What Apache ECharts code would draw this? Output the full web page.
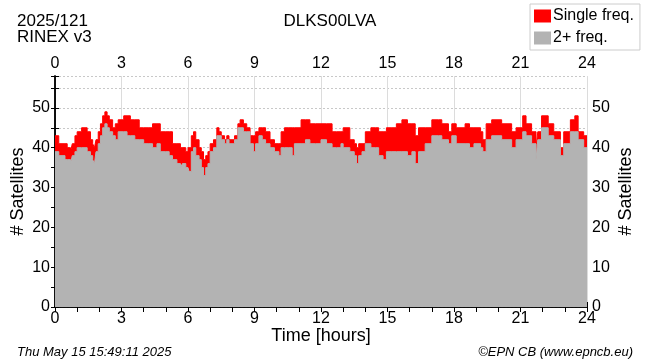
<!DOCTYPE html>
<html>
<head>
<meta charset="utf-8">
<script src="https://cdn.jsdelivr.net/npm/echarts@6/dist/echarts.min.js"></script>
<style>
html,body{margin:0;padding:0;background:#fff;}
#chart{width:650px;height:362px;}
</style>
</head>
<body>
<div id="chart"></div>
<script>
// Time of each step start (hours UTC)
const hours = [0.00,0.17,0.45,0.55,0.70,0.78,0.90,1.00,1.20,1.45,1.60,1.70,1.78,1.85,1.95,2.05,2.15,2.25,2.35,2.45,2.60,2.72,2.85,3.10,3.25,3.40,3.60,3.80,4.00,4.20,4.40,4.60,4.75,5.00,5.15,5.30,5.50,5.66,5.75,5.90,
6.00,6.05,6.15,6.25,6.35,6.50,6.60,6.70,6.80,6.90,7.00,7.15,7.30,7.40,7.50,7.65,7.75,7.85,8.10,8.25,8.35,8.50,8.65,8.80,8.95,9.05,9.20,9.35,9.50,9.70,9.90,10.10,10.20,10.35,10.55,10.70,10.80,11.10,11.30,11.50,11.75,
12.00,12.25,12.50,12.70,12.90,13.00,13.30,13.50,13.60,13.70,13.85,14.00,14.25,14.45,14.60,14.80,14.95,15.20,15.40,15.65,15.90,16.10,16.25,16.40,16.70,17.00,17.30,17.45,17.75,
17.90,18.10,18.50,18.70,18.90,19.20,19.30,19.45,19.70,20.15,20.60,20.80,21.10,21.25,21.50,21.70,21.78,21.95,22.25,22.50,22.80,22.95,23.25,23.45,23.60,23.85,24.00];
// Total satellites (top of red area)
const totalSats = [43,41,41,40,39,41,43,44,45,44,42,41,40,42,44,46,48,49,48,47,45,46,47,48,48,47,47,45,45,45,46,46,44,44,44,41,41,40,40,39,
40,40,43,44,42,40,39,37,38,39,41,42,45,44,43,42,43,42,43,46,47,46,45,43,43,44,45,45,44,42,41,41,44,45,45,45,45,47,47,46,46,
46,46,44,44,44,45,42,41,40,41,41,44,45,45,44,44,45,45,46,47,46,46,43,45,45,47,47,46,44,
46,45,46,45,45,44,42,46,47,46,44,45,48,46,44,40,44,48,46,44,40,44,47,48,44,43,43];
// Satellites tracked on 2+ frequencies (grey area)
const dualSats = [39,38,37,37,36,38,39,40,40,39,38,37,36,39,41,43,45,46,45,44,43,42,44,44,43,43,42,42,41,41,40,41,39,39,38,37,36,35,36,35,
35,34,39,40,38,37,35,33,35,36,39,40,43,43,42,41,42,41,42,45,45,44,44,41,39,41,43,42,41,40,39,38,40,40,40,38,41,41,42,41,41,
42,41,40,40,41,40,39,38,36,38,39,41,40,40,38,37,39,39,39,39,38,39,36,39,41,43,43,42,41,
43,41,41,40,41,40,39,42,43,42,40,42,44,43,41,37,42,45,43,42,38,41,44,44,42,40,40];
const xTicks = [0,3,6,9,12,15,18,21,24];
const yLabels = [0,10,20,30,40,50];

const totalData = hours.map((h,i)=>[h,totalSats[i]]);
const dualData = hours.map((h,i)=>[h,dualSats[i]]);

const FONT = '"Liberation Sans", Arial, sans-serif';
const chart = echarts.init(document.getElementById('chart'), null, {renderer:'canvas'});

const xCommon = {
  type:'value', min:xTicks[0], max:xTicks[xTicks.length-1], interval:3,
  axisLine:{show:true, lineStyle:{color:'#000', width:1.5}},
  axisTick:{show:true, inside:true, length:5, lineStyle:{color:'#000'}},
  minorTick:{show:true, splitNumber:3, length:5, lineStyle:{color:'#000'}},
  axisLabel:{color:'#000', fontSize:16, fontFamily:FONT, margin:4},
};
const yCommon = {
  type:'value', min:0, max:58, interval:5,
  axisLine:{show:true, lineStyle:{color:'#000', width:1.5}},
  axisTick:{show:true, inside:true, length:4, lineStyle:{color:'#000'}},
  axisLabel:{color:'#000', fontSize:16, fontFamily:FONT, margin:5,
    formatter:v=> yLabels.includes(v) ? String(v) : ''},
};

chart.setOption({
  animation:false,
  backgroundColor:'#fff',
  textStyle:{fontFamily:FONT},
  grid:{left:55, right:63, top:76, bottom:55, containLabel:false, outerBoundsMode:'none'},
  title:[
    {text:'DLKS00LVA', left:325, top:8, textAlign:'center', textStyle:{fontSize:17, fontWeight:'normal', color:'#000', fontFamily:FONT}},
    {text:'2025/121\nRINEX v3', left:12, top:8, textStyle:{fontSize:17, fontWeight:'normal', color:'#000', lineHeight:16, fontFamily:FONT}},
    {text:'Thu May 15 15:49:11 2025', left:12, top:341, textStyle:{fontSize:13, fontStyle:'italic', fontWeight:'normal', color:'#000', fontFamily:FONT}},
    {text:'©EPN CB (www.epncb.eu)', right:12, top:341, textStyle:{fontSize:13, fontStyle:'italic', fontWeight:'normal', color:'#000', fontFamily:FONT}}
  ],
  legend:{
    orient:'vertical', left:530, top:4, itemWidth:17, itemHeight:13, itemGap:6,
    padding:[4,6,4,4], borderColor:'#ccc', borderWidth:1, backgroundColor:'#fff',
    icon:'rect', textStyle:{fontSize:16, color:'#000', fontFamily:FONT, padding:[0,0,0,-3]},
    data:['Single freq.','2+ freq.']
  },
  xAxis:[
    Object.assign({}, xCommon, {position:'bottom', name:'Time [hours]', nameLocation:'middle', nameGap:20, nameMoveOverlap:false,
      nameTextStyle:{fontSize:18, color:'#000', fontFamily:FONT},
      splitLine:{show:true, lineStyle:{color:'#dcdcdc', width:1}}}),
    Object.assign({}, xCommon, {position:'top', splitLine:{show:false}})
  ],
  yAxis:[
    Object.assign({}, yCommon, {position:'left', name:'# Satellites', nameLocation:'middle', nameGap:28, nameMoveOverlap:false,
      nameTextStyle:{fontSize:18, color:'#000', fontFamily:FONT},
      splitLine:{show:true, lineStyle:{color:'#c8c8c8', type:[2,2], width:1}}}),
    Object.assign({}, yCommon, {position:'right', name:'# Satellites', nameLocation:'middle', nameGap:30, nameRotate:90, nameMoveOverlap:false,
      nameTextStyle:{fontSize:18, color:'#000', fontFamily:FONT},
      splitLine:{show:false}})
  ],
  series:[
    {name:'Single freq.', type:'line', step:'end', data:totalData, symbol:'none', color:'#ff0000',
      lineStyle:{width:1, color:'#ff0000'}, areaStyle:{color:'#ff0000', opacity:1}, z:2},
    {name:'2+ freq.', type:'line', step:'end', data:dualData, symbol:'none', color:'#b3b3b3',
      lineStyle:{width:1, color:'#b3b3b3'}, areaStyle:{color:'#b3b3b3', opacity:1}, z:3}
  ]
});
</script>
</body>
</html>
